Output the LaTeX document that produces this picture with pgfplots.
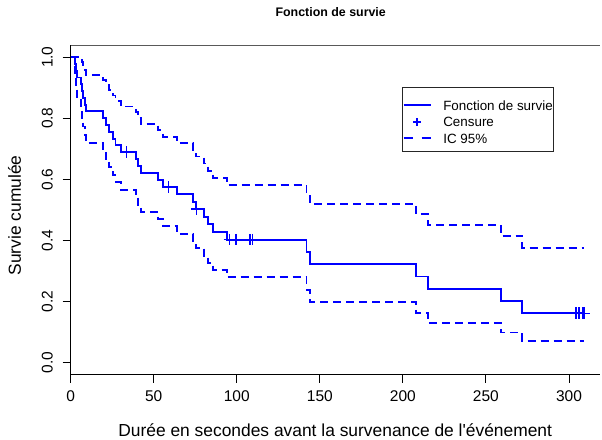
\documentclass[border=0pt]{standalone}
\usepackage{pgfplots}
\pgfplotsset{compat=1.18}
\usepackage{fontspec}
\setmainfont{Liberation Sans}[Ligatures=TeXOff]
\newcommand{\tickfont}{\fontsize{15.5}{18}\selectfont}
\newcommand{\labfont}{\fontsize{17.4}{20}\selectfont}
\newcommand{\legfont}{\fontsize{13.4}{15}\selectfont}
\newcommand{\titfont}{\fontsize{12.4}{14}\selectfont\bfseries}
\definecolor{kmblue}{RGB}{0,0,255}

\begin{document}
\begin{tikzpicture}
\begin{axis}[
  at={(0pt,0pt)}, anchor=south west,
  scale only axis, width=529.3pt, height=329.5pt,
  xmin=0, xmax=318.7, ymin=-0.04, ymax=1.04,
  axis x line*=bottom, axis y line*=left,
  axis line style={-, line width=0.9pt, black},
  tick align=outside, major tick length=8pt,
  tick style={line width=0.9pt, black},
  xtick={0,50,100,150,200,250,300},
  ytick={0,0.2,0.4,0.6,0.8,1},
  /pgf/number format/assume math mode=true,
  yticklabel={\pgfmathprintnumber[fixed,fixed zerofill,precision=1]{\tick}},
  xticklabel style={font=\tickfont, anchor=base, inner sep=0pt},
  yticklabel style={font=\tickfont, rotate=90, anchor=south, inner sep=0pt},
  xticklabel shift=19pt,
  yticklabel shift=9.7pt,
  legend style={at={(0.6272,0.842)}, anchor=north west, draw=none, fill=none,
    inner sep=0pt, outer sep=0pt, row sep=0pt, font=\legfont,
    nodes={inner sep=0pt, text height=12.95pt, text depth=3.55pt},
    cells={anchor=west},
    /tikz/every odd column/.append style={column sep=11.7pt}},
  legend cell align=left,
]
% Kaplan-Meier estimate
\addplot[color=kmblue, line width=1.9pt, const plot, forget plot] coordinates {
(0,1) (2.6,0.97778) (3.2,0.95556) (4.0,0.93333) (6.0,0.91111) (6.6,0.88889)
(7.6,0.86667) (8.6,0.84444) (9.2,0.82222) (19.3,0.80000) (21.3,0.77778)
(23.3,0.75556) (25.3,0.73333) (27.0,0.71111) (30.1,0.68889) (39.3,0.66593)
(40.7,0.64296) (42.3,0.62000) (52.7,0.59704) (55.8,0.57407) (63.8,0.55015)
(73.8,0.52623) (75.2,0.50231) (80.4,0.47719) (82.9,0.45207) (85.9,0.42696)
(93.9,0.40184) (142,0.36166) (144,0.32147) (208,0.28129) (215,0.24110)
(259,0.20092) (272,0.16073) (309.2,0.16073)};
% upper 95% CI
\addplot[color=kmblue, line width=1.9pt, const plot, dash pattern=on 8pt off 5pt, forget plot] coordinates {
(0,1) (2.6,1) (3.2,1) (4.0,1) (6.0,0.99817) (6.6,0.98562)
(7.6,0.97191) (8.6,0.95727) (9.2,0.94188) (19.3,0.92585) (21.3,0.90925)
(23.3,0.89216) (25.3,0.87463) (27.0,0.85668) (30.1,0.83835) (39.3,0.81933)
(40.7,0.79991) (42.3,0.78014) (52.7,0.76003) (55.8,0.73956) (63.8,0.71830)
(73.8,0.69668) (75.2,0.67469) (80.4,0.65171) (82.9,0.62832) (85.9,0.60452)
(93.9,0.58031) (142,0.55132) (144,0.51990) (208,0.48631) (215,0.45064)
(259,0.41303) (272,0.37357) (309.2,0.37357)};
% lower 95% CI
\addplot[color=kmblue, line width=1.9pt, const plot, dash pattern=on 8pt off 5pt, forget plot] coordinates {
(0,1) (2.6,0.93563) (3.2,0.89720) (4.0,0.86321) (6.0,0.83164) (6.6,0.80166)
(7.6,0.77283) (8.6,0.74492) (9.2,0.71777) (19.3,0.69126) (21.3,0.66532)
(23.3,0.63986) (25.3,0.61486) (27.0,0.59028) (30.1,0.56608) (39.3,0.54125)
(40.7,0.51681) (42.3,0.49273) (52.7,0.46901) (55.8,0.44561) (63.8,0.42136)
(73.8,0.39749) (75.2,0.37398) (80.4,0.34940) (82.9,0.32526) (85.9,0.30155)
(93.9,0.27826) (142,0.23725) (144,0.19878) (208,0.16270) (215,0.12899)
(259,0.09774) (272,0.06916) (309.2,0.06916)};
% censored observations
\addplot[color=kmblue, only marks, mark=+, mark size=5.8pt, line width=1.5pt, forget plot] coordinates {
(33.7,0.68889) (58.8,0.57407) (75.8,0.50231)
(95.5,0.40184) (99.5,0.40184) (108,0.40184) (109.6,0.40184)
(304.2,0.16073) (306.2,0.16073) (308.3,0.16073) (309.2,0.16073)};
\addlegendimage{legend image code/.code={\draw[color=kmblue, line width=1.9pt] (0pt,0pt) -- (27pt,0pt);}}
\addlegendentry{Fonction de survie}
\addlegendimage{legend image code/.code={\draw[color=kmblue, line width=1.5pt] (9.5pt,0pt) -- (17.5pt,0pt) (13.5pt,-4pt) -- (13.5pt,4pt);}}
\addlegendentry{Censure}
\addlegendimage{legend image code/.code={\draw[color=kmblue, line width=1.9pt, dash pattern=on 9pt off 9pt] (0pt,0pt) -- (27pt,0pt);}}
\addlegendentry{IC 95\%}
\end{axis}
\draw[black!65, line width=0.9pt] (0pt,329.5pt) -- (529.3pt,329.5pt);
\draw[black!85, line width=0.9pt] (332pt,223.5pt) rectangle (482.3pt,287.2pt);
\node[font=\titfont, anchor=base] at (260pt,357.5pt) {Fonction de survie};
\node[font=\labfont, anchor=base] at (264.5pt,-61.5pt) {Durée en secondes avant la survenance de l'événement};
\node[font=\labfont, anchor=base, rotate=90] at (-49.7pt,159pt) {Survie cumulée};
\pgfresetboundingbox
\useasboundingbox (-70.7pt,-64.5pt) rectangle (531.3pt,374.5pt);
\end{tikzpicture}
\end{document}
